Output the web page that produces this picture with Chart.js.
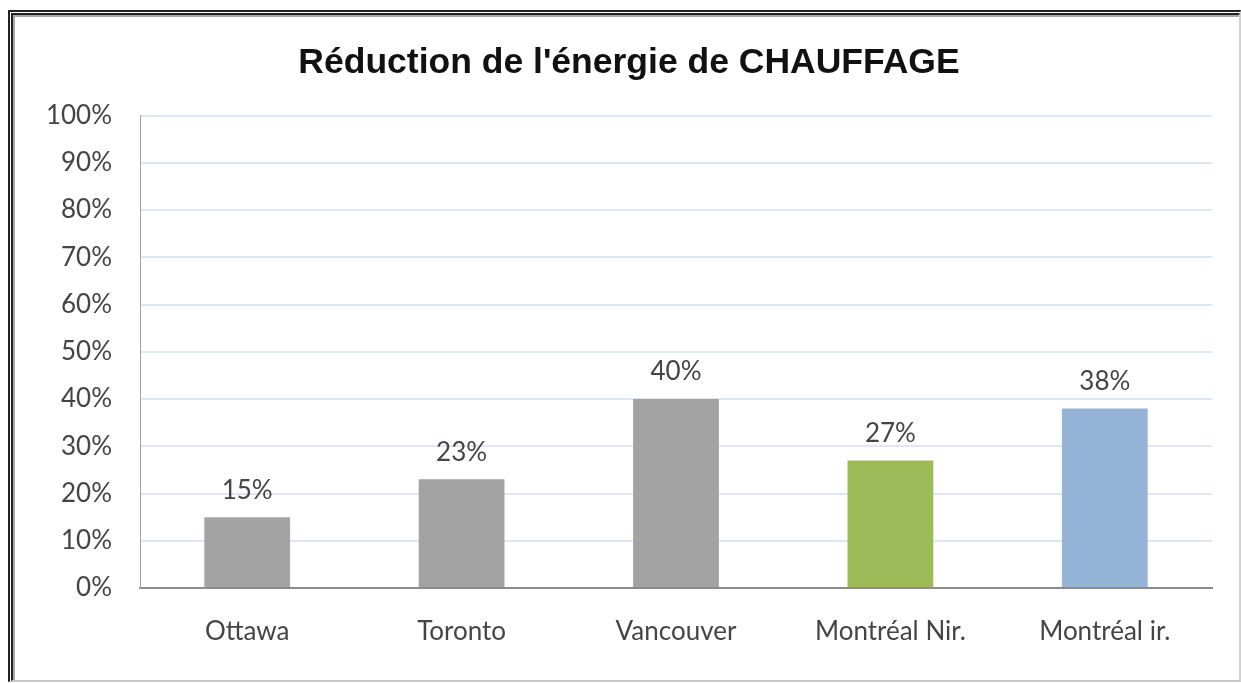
<!DOCTYPE html>
<html lang="fr">
<head>
  <meta charset="UTF-8" />
  <title>Réduction de l'énergie de CHAUFFAGE</title>
  <script src="https://cdn.jsdelivr.net/npm/chart.js"></script>
  <style>
    html, body { margin: 0; padding: 0; background: #fff; }
    body { width: 1241px; height: 683px; position: relative; overflow: hidden; }
    /* chart frame */
    .frame {
      position: absolute; left: 8px; top: 10px; right: 0; bottom: 1px;
      border-left: 5px double #222; border-top: 5px double #222;
      border-right: 2px solid #d0d0d0; border-bottom: 2px solid #c8c8c8;
    }
    .frame .inner {
      position: absolute; left: 0; top: 0; right: 0; bottom: 0;
      border-left: 2px solid #a8a8a8; border-top: 2px solid #a8a8a8;
    }
    #wrap { position: absolute; left: 16px; top: 17px; width: 1222px; height: 662px; }
  </style>
</head>
<body>

  <div class="frame"><div class="inner"></div></div>
  <div id="wrap"><canvas id="chauffage"></canvas></div>

  <script>
    // data
    const villes = ["Ottawa", "Toronto", "Vancouver", "Montréal Nir.", "Montréal ir."];
    const reduction = [15, 23, 40, 27, 38];
    const couleurs = ["#a3a3a3", "#a3a3a3", "#a3a3a3", "#9bbb59", "#95b3d7"];
    const ticksPct = [0, 10, 20, 30, 40, 50, 60, 70, 80, 90, 100];

    const txt = "#454545";

    // value above each bar
    const etiquettes = {
      id: "etiquettes",
      afterDatasetsDraw(chart) {
        const ctx = chart.ctx;
        const meta = chart.getDatasetMeta(0);
        ctx.save();
        ctx.font = "26px Lato";
        ctx.fillStyle = txt;
        ctx.textAlign = "center";
        ctx.textBaseline = "middle";
        meta.data.forEach((bar, i) => {
          ctx.fillText(reduction[i] + "%", bar.x, bar.y - 27);
        });
        ctx.restore();
      }
    };

    new Chart(document.getElementById("chauffage"), {
      type: "bar",
      data: {
        labels: villes,
        datasets: [{
          data: reduction,
          backgroundColor: couleurs,
          categoryPercentage: 1,
          barPercentage: 0.4
        }]
      },
      options: {
        responsive: true,
        maintainAspectRatio: false,
        animation: false,
        // left padding chosen so the title sits centred like the original
        layout: { padding: { top: 0, right: 26, bottom: 0, left: 30 } },
        plugins: {
          legend: { display: false },
          tooltip: { enabled: false },
          title: {
            display: true,
            text: "Réduction de l'énergie de CHAUFFAGE",
            color: "#111",
            font: { family: "Liberation Sans", size: 35.5, weight: "bold", lineHeight: 1.2 },
            padding: { top: 25, bottom: 31 }
          }
        },
        scales: {
          x: {
            grid: { display: false, drawTicks: false },
            border: { color: "#8c8c8c", width: 2 },
            ticks: { color: txt, font: { family: "Lato", size: 26 }, padding: 28 },
            afterFit(s) { s.height = 91; }
          },
          y: {
            min: 0,
            max: 100,
            afterBuildTicks(s) { s.ticks = ticksPct.map(v => ({ value: v })); },
            grid: { color: "#dfe7f2", lineWidth: 2, drawTicks: false },
            border: { color: "#a0a0a0", width: 1 },
            ticks: {
              color: txt,
              font: { family: "Lato", size: 26 },
              padding: 28,
              callback: v => v + "%"
            },
            afterFit(s) { s.width = 94; }
          }
        }
      },
      plugins: [etiquettes]
    });
  </script>

</body>
</html>
